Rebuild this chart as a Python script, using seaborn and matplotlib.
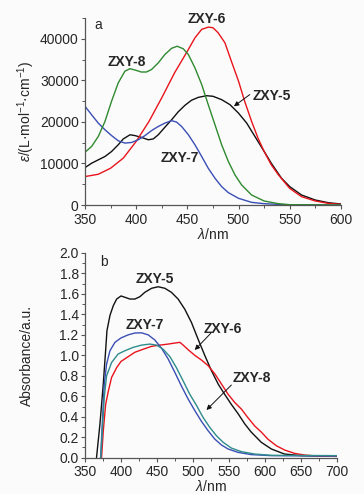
import numpy as np
import pandas as pd
import matplotlib
matplotlib.use("Agg")
import matplotlib.pyplot as plt
import seaborn as sns
from matplotlib.ticker import MultipleLocator, FormatStrFormatter

# panel a: molar absorptivity in solution
wl_5a = [350, 356.5, 363, 369.5, 376, 382.5, 387.4, 394, 398.8, 405.3, 411.8, 416.7,
         421.6, 428, 434.6, 441, 447.7, 454, 460.7, 468.8, 475, 483.5, 491.6, 500,
         508, 516, 525, 532, 542, 550, 561.6, 575, 587.6, 600]
eps_5 = [9000, 10060, 10870, 11670, 12880, 14500, 15900, 16900, 16700, 16260, 15700,
         15900, 16900, 18700, 20500, 22400, 24000, 25200, 25900, 26300, 26160, 25350,
         24150, 22100, 19700, 16500, 12900, 10060, 6440, 4430, 2400, 1200, 560, 240]

wl_6a = [350, 363, 375, 387.5, 400, 412.5, 425, 437.5, 450, 457.5, 464, 470.5, 475,
         480, 486.7, 493, 500, 506, 512.8, 519, 525, 532, 539, 550, 561.6, 575, 587.6,
         600]
eps_6 = [6840, 7400, 8850, 11300, 15300, 20100, 25800, 31800, 37000, 40250, 42260,
         42800, 42660, 41460, 39040, 34600, 29800, 24950, 20100, 16100, 12900, 9660,
         7250, 4000, 2000, 970, 400, 160]

wl_7a = [350, 356.5, 363, 369.5, 376, 382.5, 389, 395.6, 402, 408.6, 415, 421.6, 428,
         434.6, 439.5, 444.4, 451, 457.4, 464, 470.4, 477, 483.5, 490, 500, 512.8, 525,
         545, 600]
eps_7 = [23750, 21700, 19700, 18100, 16700, 15450, 14900, 15050, 15700, 16700, 17900,
         18900, 19700, 20300, 19950, 18900, 16900, 14500, 11670, 8850, 6440, 4430,
         2980, 1610, 640, 320, 80, 0]

wl_8a = [350, 356.5, 363, 369.5, 376, 382.5, 389, 394, 400, 405, 410, 415, 421.6, 428,
         434.6, 440, 446, 451, 457.4, 464, 470.4, 477, 483.5, 490, 496.5, 503, 512.8,
         525, 539, 550, 600]
eps_8 = [12700, 14100, 16500, 20100, 25000, 29400, 32200, 32800, 32400, 32000, 32000,
         32600, 34200, 36200, 37700, 38200, 37600, 36200, 33000, 29000, 24150, 19300,
         14500, 10500, 7250, 4830, 2400, 970, 320, 80, 0]

# panel b: film absorbance
wl_5b = [366, 370.8, 375.4, 378.7, 380.5, 384.7, 389.3, 394, 400, 405.5, 412.4, 419.3,
         426.3, 433.2, 442.5, 451.7, 461, 470, 479.4, 488.7, 498, 507, 516.4, 525.7,
         535, 544, 553.4, 562.7, 572, 581, 595, 609, 627, 650.5, 699.5]
abs_5 = [0.0, 0.33, 0.72, 1.05, 1.24, 1.39, 1.485, 1.55, 1.58, 1.567, 1.55, 1.55, 1.573,
         1.616, 1.655, 1.67, 1.655, 1.616, 1.55, 1.45, 1.32, 1.16, 1.0, 0.85, 0.72, 0.62,
         0.52, 0.43, 0.33, 0.25, 0.15, 0.085, 0.036, 0.02, 0.013]

wl_6b = [373, 375.4, 378.7, 382.4, 387, 394, 400, 410, 419.3, 431, 442.5, 454, 465.6,
         474.8, 481.8, 486.4, 493.3, 502.6, 511.8, 521, 530.3, 539.6, 548.8, 558, 567.3,
         576.5, 585.8, 595, 604.3, 615.8, 627.4, 641.3, 655, 673.6, 699.5]
abs_6 = [0.0, 0.26, 0.52, 0.65, 0.785, 0.88, 0.94, 0.987, 1.03, 1.06, 1.088, 1.10, 1.11,
         1.12, 1.127, 1.10, 1.055, 1.0, 0.954, 0.90, 0.82, 0.72, 0.62, 0.54, 0.475, 0.39,
         0.31, 0.25, 0.18, 0.117, 0.075, 0.042, 0.026, 0.016, 0.013]

wl_7b = [371.7, 374, 376.8, 380, 384.7, 391.6, 400, 410, 419.3, 428.6, 437.8, 447, 456.3,
         465.6, 474.8, 484, 493.3, 502.6, 511.8, 521, 530.3, 539.6, 548.8, 562.7, 581,
         609, 699.5]
abs_7 = [0.0, 0.33, 0.72, 0.915, 1.045, 1.127, 1.17, 1.2, 1.218, 1.22, 1.20, 1.15, 1.07,
         0.964, 0.834, 0.70, 0.573, 0.46, 0.355, 0.264, 0.182, 0.124, 0.085, 0.052, 0.03,
         0.02, 0.016]

wl_8b = [372, 374, 376.8, 380, 387, 396, 405.5, 417, 428.6, 440, 449.4, 458.6, 468, 477,
         486.4, 495.6, 505, 514, 523.4, 532.6, 542, 553.4, 567.3, 585.8, 609, 699.5]
abs_8 = [0.0, 0.26, 0.59, 0.80, 0.93, 1.013, 1.045, 1.078, 1.10, 1.11, 1.10, 1.06, 0.987,
         0.88, 0.75, 0.62, 0.51, 0.394, 0.296, 0.215, 0.15, 0.094, 0.059, 0.036, 0.023,
         0.02]

names = ["ZXY-5", "ZXY-6", "ZXY-7", "ZXY-8"]
df_a = pd.concat([pd.DataFrame({"wl": w, "val": v, "name": n}) for w, v, n in
                  zip([wl_5a, wl_6a, wl_7a, wl_8a], [eps_5, eps_6, eps_7, eps_8], names)])
df_b = pd.concat([pd.DataFrame({"wl": w, "val": v, "name": n}) for w, v, n in
                  zip([wl_5b, wl_6b, wl_7b, wl_8b], [abs_5, abs_6, abs_7, abs_8], names)])

sns.set_style("ticks")
plt.rcParams['font.family'] = ['Liberation Sans', 'DejaVu Sans']
plt.rcParams['mathtext.fontset'] = 'custom'
plt.rcParams['mathtext.rm'] = 'Liberation Sans'
plt.rcParams['mathtext.it'] = 'Liberation Sans:italic'

pal_a = {"ZXY-5": "#111111", "ZXY-6": "#e8141c", "ZXY-7": "#3a4fb4", "ZXY-8": "#2f8a2f"}
pal_b = {"ZXY-5": "#111111", "ZXY-6": "#e8141c", "ZXY-7": "#3a4fb4", "ZXY-8": "#2f8c8c"}

bg = "#fbfbfb"
fig = plt.figure(figsize=(3.64, 4.94), dpi=100, facecolor=bg)
ax1 = fig.add_axes([0.2335, 0.585, 0.703, 0.3786])
ax2 = fig.add_axes([0.2335, 0.0735, 0.692, 0.4144])

sns.lineplot(data=df_a, x="wl", y="val", hue="name", palette=pal_a, legend=False,
             lw=1.0, ax=ax1, sort=False)
sns.lineplot(data=df_b, x="wl", y="val", hue="name", palette=pal_b, legend=False,
             lw=1.0, ax=ax2, sort=False)

for ax in (ax1, ax2):
    ax.set_facecolor(bg)
    sns.despine(ax=ax)
    for s in ("left", "bottom"):
        ax.spines[s].set_color("#555555")
        ax.spines[s].set_linewidth(0.9)
    ax.tick_params(which="major", length=3, width=0.8, color="#555555", labelsize=10, pad=1.5)
    ax.tick_params(which="minor", length=2, width=0.7, color="#555555")
    ax.tick_params(axis="x", which="major", pad=2.5)

ax1.set_xlim(350, 600)
ax1.set_ylim(0, 45000)
ax1.xaxis.set_major_locator(MultipleLocator(50))
ax1.xaxis.set_minor_locator(MultipleLocator(25))
ax1.yaxis.set_major_locator(MultipleLocator(10000))
ax1.yaxis.set_minor_locator(MultipleLocator(5000))
ax1.set_xlabel(r"$\mathit{λ}$/nm", fontsize=10, labelpad=0)
ax1.set_ylabel(r"$\mathit{ε}$/(L·mol$^{-1}$·cm$^{-1}$)", fontsize=10, labelpad=2)
ax1.text(0.05, 0.963, "a", transform=ax1.transAxes, fontsize=10, ha="center", va="center")

bold = dict(fontsize=10, fontweight="bold", ha="center", va="center")
ax1.text(469, 44700, "ZXY-6", **bold)
ax1.text(391, 34300, "ZXY-8", **bold)
ax1.text(532.6, 26200, "ZXY-5", **bold)
ax1.text(442.8, 11200, "ZXY-7", **bold)
arr = dict(arrowstyle="-|>", lw=0.7, color="#111111", mutation_scale=7, shrinkA=0, shrinkB=0)
ax1.annotate("", xy=(495.5, 23750), xytext=(511, 26570), arrowprops=arr)

ax2.set_xlim(350, 700)
ax2.set_ylim(0, 2.0)
ax2.xaxis.set_major_locator(MultipleLocator(50))
ax2.xaxis.set_minor_locator(MultipleLocator(25))
ax2.yaxis.set_major_locator(MultipleLocator(0.2))
ax2.yaxis.set_minor_locator(MultipleLocator(0.1))
ax2.yaxis.set_major_formatter(FormatStrFormatter("%.1f"))
ax2.set_xlabel(r"$\mathit{λ}$/nm", fontsize=10, labelpad=0)
ax2.set_ylabel("Absorbance/a.u.", fontsize=10, labelpad=18)
ax2.text(0.075, 0.956, "b", transform=ax2.transAxes, fontsize=10, ha="center", va="center")

ax2.text(447, 1.743, "ZXY-5", **bold)
ax2.text(433.2, 1.297, "ZXY-7", **bold)
ax2.text(541.8, 1.257, "ZXY-6", **bold)
ax2.text(581.2, 0.776, "ZXY-8", **bold)
ax2.annotate("", xy=(502.5, 1.052), xytext=(524.7, 1.215), arrowprops=arr)
ax2.annotate("", xy=(518.8, 0.466), xytext=(553.4, 0.71), arrowprops=arr)

fig.savefig("out.png", dpi=100, facecolor=fig.get_facecolor())
